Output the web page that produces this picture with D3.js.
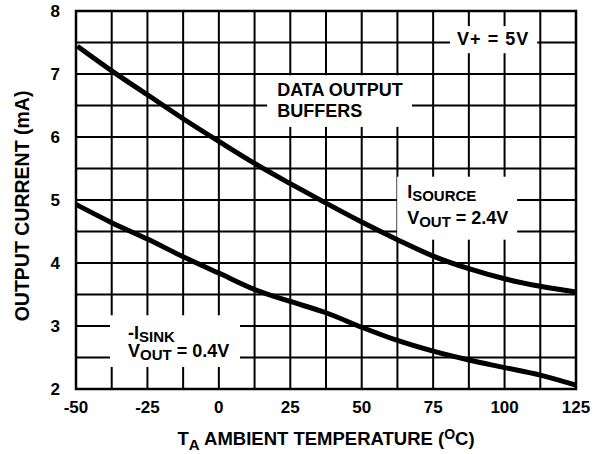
<!DOCTYPE html>
<html>
<head>
<meta charset="utf-8">
<script src="https://cdn.jsdelivr.net/npm/d3@7"></script>
<style>
  body { margin: 0; background: #fff; }
  svg text { font-family: "Liberation Sans", Arial, sans-serif; font-weight: bold; fill: #000; }
</style>
</head>
<body>
<script>
const width = 593
const height = 454

// tick labels
const tempTicks = [-50, -25, 0, 25, 50, 75, 100, 125];
const currentTicks = [2, 3, 4, 5, 6, 7, 8];

// I SOURCE, VOUT = 2.4V
const sourceTemp = [-49.5, -37.5, -25, -12.5, 0, 12.5, 25, 37.5, 50, 62.5, 75, 87.5, 100, 112.5, 125];
const sourceCurrent = [7.44, 7.05, 6.67, 6.29, 5.93, 5.58, 5.26, 4.95, 4.65, 4.37, 4.11, 3.91, 3.75, 3.63, 3.54];

// -I SINK, VOUT = 0.4V
const sinkTemp = [-50, -37.5, -25, -12.5, 0, 12.5, 25, 37.5, 50, 62.5, 75, 87.5, 100, 112.5, 125];
const sinkCurrent = [4.93, 4.64, 4.38, 4.10, 3.84, 3.58, 3.39, 3.21, 2.98, 2.77, 2.60, 2.46, 2.34, 2.22, 2.06];

const svg = d3.select("body").append("svg")
    .attr("width", width)
    .attr("height", height);

const margin = {left: 76, right: 17, top: 11, bottom: 65};

const x = d3.scaleLinear()
    .domain([-50, 125])
    .range([margin.left, width - margin.right]);

const y = d3.scaleLinear()
    .domain([2, 8])
    .range([height - margin.bottom, margin.top]);

// grid every 12.5 C and 0.5 mA
const grid = svg.append("g");
grid.selectAll(".vgrid")
    .data(d3.range(-37.5, 125, 12.5))
    .enter().append("line")
    .attr("x1", d => x(d)).attr("x2", d => x(d))
    .attr("y1", y(2)).attr("y2", y(8))
    .attr("stroke", "#000").attr("stroke-width", 2);
grid.selectAll(".hgrid")
    .data(d3.range(2.5, 8, 0.5))
    .enter().append("line")
    .attr("x1", x(-50)).attr("x2", x(125))
    .attr("y1", d => y(d)).attr("y2", d => y(d))
    .attr("stroke", "#000").attr("stroke-width", 2);

// white boxes behind the notes, in data units
const boxes = [
    {t0: 80.9, t1: 111.4, i0: 7.76, i1: 7.33},
    {t0: 16.9, t1: 67.6, i0: 6.98, i1: 6.16},
    {t0: 62.4, t1: 104.4, i0: 5.37, i1: 4.37},
    {t0: -38.1, t1: 7.4, i0: 3.17, i1: 2.35}
];
svg.selectAll(".box")
    .data(boxes)
    .enter().append("rect")
    .attr("x", d => x(d.t0))
    .attr("y", d => y(d.i0))
    .attr("width", d => x(d.t1) - x(d.t0))
    .attr("height", d => y(d.i1) - y(d.i0))
    .attr("fill", "#fff");

// frame
svg.append("rect")
    .attr("x", x(-50)).attr("y", y(8))
    .attr("width", x(125) - x(-50))
    .attr("height", y(2) - y(8))
    .attr("fill", "none")
    .attr("stroke", "#000")
    .attr("stroke-width", 2.5);

// curves
const line = d3.line()
    .x(d => x(d[0]))
    .y(d => y(d[1]))
    .curve(d3.curveMonotoneX);

svg.append("path")
    .datum(d3.zip(sourceTemp, sourceCurrent))
    .attr("d", line)
    .attr("fill", "none")
    .attr("stroke", "#000")
    .attr("stroke-width", 5);

svg.append("path")
    .datum(d3.zip(sinkTemp, sinkCurrent))
    .attr("d", line)
    .attr("fill", "none")
    .attr("stroke", "#000")
    .attr("stroke-width", 5);

// tick labels
svg.selectAll(".xtick")
    .data(tempTicks)
    .enter().append("text")
    .attr("x", d => x(d))
    .attr("y", y(2) + 24)
    .attr("text-anchor", "middle")
    .style("font-size", "17px")
    .text(d => d);

svg.selectAll(".ytick")
    .data(currentTicks)
    .enter().append("text")
    .attr("x", x(-50) - 16)
    .attr("y", d => y(d) + 6)
    .attr("text-anchor", "end")
    .style("font-size", "17px")
    .text(d => d);

// axis titles
const xt = svg.append("text")
    .attr("x", (x(-50) + x(125)) / 2)
    .attr("y", 445)
    .attr("text-anchor", "middle")
    .style("font-size", "18.5px");
xt.append("tspan").text("T");
xt.append("tspan").attr("dy", 5).style("font-size", "15px").text("A");
xt.append("tspan").attr("dy", -5).text(" AMBIENT TEMPERATURE (");
xt.append("tspan").attr("dy", -6).style("font-size", "14px").text("O");
xt.append("tspan").attr("dy", 6).text("C)");

svg.append("text")
    .attr("transform", `translate(29,${(y(2) + y(8)) / 2 + 6}) rotate(-90)`)
    .attr("text-anchor", "middle")
    .style("font-size", "19.5px")
    .text("OUTPUT CURRENT (mA)");

// notes
svg.append("text")
    .attr("x", x(96)).attr("y", y(7.46))
    .attr("text-anchor", "middle")
    .style("font-size", "18px")
    .style("letter-spacing", "1px")
    .text("V+ = 5V");

svg.append("text")
    .attr("x", x(20.4)).attr("y", y(6.65))
    .style("font-size", "18px")
    .text("DATA OUTPUT");
svg.append("text")
    .attr("x", x(20.4)).attr("y", y(6.32))
    .style("font-size", "18px")
    .text("BUFFERS");

function note(t, i, main, sub, rest) {
    const el = svg.append("text")
        .attr("x", x(t)).attr("y", y(i))
        .style("font-size", "18px");
    el.append("tspan").text(main);
    el.append("tspan").attr("dy", 3).style("font-size", "15px").text(sub);
    if (rest) el.append("tspan").attr("dy", -3).text(rest);
}
note(65.9, 5.03, "I", "SOURCE");
note(65.9, 4.62, "V", "OUT", " = 2.4V");
note(-31.8, 2.80, "-I", "SINK");
note(-31.8, 2.51, "V", "OUT", " = 0.4V");
</script>
</body>
</html>
